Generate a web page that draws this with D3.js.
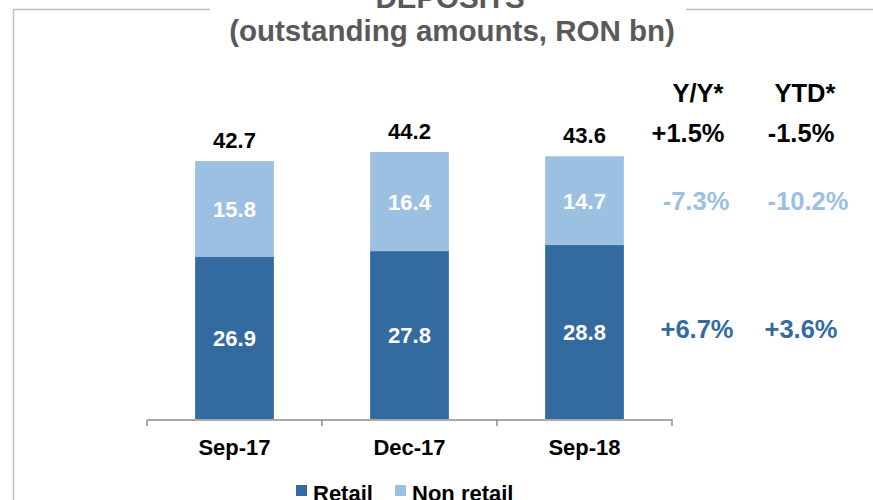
<!DOCTYPE html>
<html>
<head>
<meta charset="utf-8">
<script src="https://cdn.jsdelivr.net/npm/d3@7"></script>
<style>
  html, body { margin: 0; padding: 0; background: #ffffff; }
  svg { display: block; font-family: "Liberation Sans", Arial, sans-serif; }
</style>
</head>
<body>
<svg id="chart" width="873" height="500"></svg>
<script>
// ---- data ----
const categories = ["Sep-17", "Dec-17", "Sep-18"];
const retail = [26.9, 27.8, 28.8];
const nonRetail = [15.8, 16.4, 14.7];
const totals = [42.7, 44.2, 43.6];
const seriesNames = ["Retail", "Non retail"];
const changeHeaders = ["Y/Y*", "YTD*"];
const totalChanges = ["+1.5%", "-1.5%"];
const nonRetailChanges = ["-7.3%", "-10.2%"];
const retailChanges = ["+6.7%", "+3.6%"];
const titleLines = ["DEPOSITS", "(outstanding amounts, RON bn)"];

const colRetail = "#336a9f";
const colNon = "#9cc0e2";

const svg = d3.select("#chart");

// frame lines
const frame = svg.append("g").attr("stroke", "#bfbfbf").attr("stroke-width", 1.5).attr("fill", "none");
frame.append("path").attr("d", "M13.5,500 L13.5,9.5 L210,9.5");
frame.append("path").attr("d", "M686,9.5 L873,9.5");

// title
svg.append("text").attr("x", 450).attr("y", 8).attr("text-anchor", "middle")
  .attr("font-size", 29.5).attr("font-weight", "bold").attr("fill", "#595959").text(titleLines[0]);
svg.append("text").attr("x", 452).attr("y", 41).attr("text-anchor", "middle")
  .attr("font-size", 29.5).attr("font-weight", "bold").attr("fill", "#595959").text(titleLines[1]);

// scales
const x = d3.scaleBand().domain(categories).range([147, 672]).paddingInner(0.55).paddingOuter(0.275);
const y = d3.scaleLinear().domain([0, 50]).range([419, 117]);

const data = categories.map((c, i) => ({ cat: c, retail: retail[i], nonRetail: nonRetail[i], total: totals[i] }));
const stack = d3.stack().keys(["retail", "nonRetail"])(data);
const colors = [colRetail, colNon];

stack.forEach((layer, li) => {
  svg.append("g").selectAll("rect").data(layer).join("rect")
    .attr("x", d => x(d.data.cat))
    .attr("width", x.bandwidth())
    .attr("y", d => y(d[1]))
    .attr("height", d => y(d[0]) - y(d[1]))
    .attr("fill", colors[li]);
  svg.append("g").selectAll("text").data(layer).join("text")
    .attr("x", d => x(d.data.cat) + x.bandwidth() / 2)
    .attr("y", d => (y(d[0]) + y(d[1])) / 2 + 8)
    .attr("text-anchor", "middle").attr("font-size", 22).attr("font-weight", "bold")
    .attr("fill", "#ffffff")
    .text(d => d3.format(".1f")(d[1] - d[0]));
});

// totals
svg.append("g").selectAll("text").data(data).join("text")
  .attr("x", d => x(d.cat) + x.bandwidth() / 2)
  .attr("y", d => y(d.total) - 13)
  .attr("text-anchor", "middle").attr("font-size", 22).attr("font-weight", "bold")
  .attr("fill", "#000000")
  .text(d => d3.format(".1f")(d.total));

// x axis
const axis = svg.append("g").attr("transform", "translate(0,419.5)")
  .call(d3.axisBottom(x).tickSize(0).tickSizeOuter(0));
axis.select(".domain").attr("stroke", "#8c8c8c").attr("stroke-width", 1.5);
axis.selectAll(".tick text").attr("font-size", 22).attr("font-weight", "bold")
  .attr("fill", "#000").attr("dy", null).attr("y", 35)
  .attr("font-family", "Liberation Sans, Arial, sans-serif");
// category separators
const sepX = [x.range()[0]].concat(categories.map(c => x(c) - x.step() * x.paddingInner() / 2).slice(1)).concat([x.range()[1]]);
svg.append("g").selectAll("line").data(sepX).join("line")
  .attr("x1", d => d).attr("x2", d => d).attr("y1", 419.5).attr("y2", 426)
  .attr("stroke", "#8c8c8c").attr("stroke-width", 1.5);

// change annotations
function annRow(vals, centers, yy, fill) {
  svg.append("g").selectAll("text").data(vals).join("text")
    .attr("x", (d, i) => centers[i]).attr("y", yy)
    .attr("text-anchor", "middle").attr("font-size", 25.5).attr("font-weight", "bold")
    .attr("fill", fill).text(d => d);
}
annRow(changeHeaders, [698, 805], 102, "#000000");
annRow(totalChanges, [688, 801], 142, "#000000");
annRow(nonRetailChanges, [696, 808], 210, colNon);
annRow(retailChanges, [697, 801], 338, colRetail);

// legend
const legendX = [296, 395];
const lg = svg.append("g");
seriesNames.forEach((n, i) => {
  lg.append("rect").attr("x", legendX[i]).attr("y", 485).attr("width", 11).attr("height", 11).attr("fill", colors[i]);
  lg.append("text").attr("x", legendX[i] + 17).attr("y", 501).attr("font-size", 22).attr("font-weight", "bold")
    .attr("fill", "#000").text(n);
});
</script>
</body>
</html>
